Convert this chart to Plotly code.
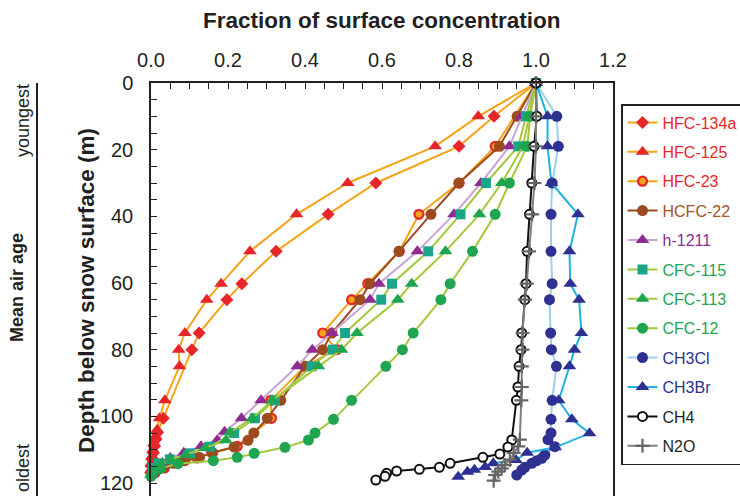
import plotly.graph_objects as go

# Firn air profiles: fraction of surface concentration vs depth (m)
hfc134a_depth = [0, 10, 19, 30, 39.4, 50.5, 60.2, 65, 75, 80, 100.6, 105, 107, 109, 111, 113, 115, 117]
hfc134a = [1.0, 0.891, 0.800, 0.584, 0.460, 0.325, 0.236, 0.197, 0.125, 0.106, 0.032, 0.016, 0.012, 0.009, 0.006, 0.003, 0.001, 0.0]

hfc125_depth = [0, 10, 19, 30, 39.4, 50.5, 60.2, 65, 75, 80, 85, 95.2, 100.6, 104, 106, 108, 110, 112, 114, 116, 118]
hfc125 = [1.0, 0.850, 0.738, 0.511, 0.378, 0.257, 0.182, 0.145, 0.088, 0.072, 0.074, 0.036, 0.022, 0.016, 0.012, 0.008, 0.005, 0.003, 0.001, 0.0, -0.002]

hfc23_depth = [0, 19, 30, 39.4, 50.5, 60.2, 65, 75, 80, 85, 95.2, 100.6, 109, 110.9, 112.5, 114, 115.5, 117]
hfc23 = [1.0, 0.894, 0.800, 0.696, 0.645, 0.563, 0.521, 0.446, 0.482, 0.400, 0.311, 0.313, 0.224, 0.158, 0.120, 0.070, 0.035, 0.010]

hcfc22_depth = [0, 10, 19, 30, 39.4, 50.5, 60.2, 65, 75, 80, 85, 95.2, 100.6, 105, 107.2, 109.2, 110.9, 112.3, 113.3, 114.1, 115, 116, 117]
hcfc22 = [1.0, 0.951, 0.905, 0.800, 0.727, 0.644, 0.569, 0.543, 0.470, 0.446, 0.400, 0.337, 0.302, 0.267, 0.252, 0.216, 0.160, 0.126, 0.088, 0.058, 0.035, 0.018, 0.008]

h1211_depth = [0, 10, 19, 30, 39.4, 50.5, 60.2, 65, 75, 80, 85, 95.2, 100.6, 104.6, 107.2, 109, 110.9, 112.5, 114, 115.5, 117]
h1211 = [1.0, 0.963, 0.931, 0.857, 0.787, 0.692, 0.592, 0.569, 0.470, 0.419, 0.380, 0.286, 0.235, 0.191, 0.172, 0.130, 0.085, 0.050, 0.030, 0.015, 0.005]

cfc115_depth = [0, 10, 19, 30, 39.4, 50.5, 60.2, 65, 75, 80, 85, 95.2, 100.6, 105, 109.1, 111.1, 112.9, 114.1, 115.5, 117]
cfc115 = [1.0, 0.974, 0.954, 0.870, 0.804, 0.720, 0.626, 0.598, 0.504, 0.472, 0.417, 0.322, 0.270, 0.216, 0.153, 0.101, 0.049, 0.020, 0.005, -0.003]

cfc113_depth = [0, 10, 19, 30, 39.4, 50.5, 60.2, 65, 75, 80, 85, 95.2, 100.6, 104.8, 107.2, 109.5, 111.5, 113, 114.5, 116, 117.5]
cfc113 = [1.0, 0.983, 0.966, 0.911, 0.853, 0.765, 0.677, 0.641, 0.535, 0.495, 0.435, 0.315, 0.263, 0.205, 0.195, 0.140, 0.090, 0.050, 0.025, 0.010, 0.0]

cfc12_depth = [0, 10, 19, 30, 39.4, 50.5, 60.2, 65, 75, 80, 85, 95.2, 100.9, 105, 107.1, 109.3, 111.1, 112.3, 113.3, 114.2, 115.6, 117.1, 118]
cfc12 = [1.0, 0.985, 0.977, 0.931, 0.894, 0.835, 0.777, 0.753, 0.681, 0.653, 0.610, 0.521, 0.474, 0.426, 0.409, 0.348, 0.268, 0.224, 0.162, 0.070, 0.025, 0.005, 0.0]

ch3cl_depth = [0, 10, 19, 30, 39.4, 50.5, 60.2, 65, 75, 80, 85, 95.2, 100.9, 105, 107, 109.1, 111.6, 112.6, 113.3, 114.1, 115.3, 116.1, 117.6]
ch3cl = [1.0, 1.054, 1.058, 1.042, 1.039, 1.039, 1.042, 1.035, 1.038, 1.040, 1.053, 1.042, 1.039, 1.039, 1.031, 1.049, 1.023, 1.015, 1.002, 0.989, 0.971, 0.963, 0.950]

ch3br_depth = [0, 10, 19, 30, 39.4, 50.5, 60.2, 65, 75, 80, 85, 95.2, 100.9, 105.1, 109.3, 110.9, 113.1, 114.1, 115.2, 116, 116.6, 118.1]
ch3br = [1.0, 1.030, 1.030, 1.040, 1.109, 1.087, 1.089, 1.112, 1.118, 1.100, 1.087, 1.059, 1.093, 1.139, 1.050, 0.977, 0.948, 0.889, 0.868, 0.840, 0.822, 0.798]

ch4_depth = [0, 10, 19, 30, 39.4, 50.5, 60.2, 65, 75, 80, 85, 91.2, 95.2, 107.1, 109.2, 111.3, 112.3, 114.1, 115.3, 115.9, 116.4, 117.1, 118, 119.1]
ch4 = [1.0, 1.002, 0.995, 0.989, 0.983, 0.977, 0.974, 0.971, 0.963, 0.961, 0.956, 0.953, 0.949, 0.937, 0.927, 0.906, 0.862, 0.777, 0.749, 0.697, 0.638, 0.612, 0.608, 0.584]

n2o_depth = [0, 10, 19, 30, 39.4, 50.5, 60.2, 65, 75, 80, 85, 91.2, 95.2, 107, 109, 111, 113, 114.6, 115.6, 116.6, 117.6, 119.3]
n2o = [1.0, 1.0, 1.0, 0.996, 0.990, 0.982, 0.976, 0.971, 0.965, 0.965, 0.963, 0.963, 0.962, 0.958, 0.954, 0.942, 0.932, 0.919, 0.911, 0.902, 0.894, 0.890]

x_ticks = [0.0, 0.2, 0.4, 0.6, 0.8, 1.0, 1.2]
y_ticks = [0, 20, 40, 60, 80, 100, 120]

RED = "#e8262a"
ORANGE = "#f5a31a"
BROWN = "#9c4a1e"
PURPLE = "#8e2c90"
LILAC = "#c9a3d4"
TEAL = "#1ba58a"
GREEN = "#1fa550"
LIME = "#a3c83c"
NAVY = "#2e3192"
SKY = "#9cd0ee"
CYAN = "#22b2e2"
INK = "#231f20"
GREY = "#808080"

series = [
    ("HFC-134a", hfc134a_depth, hfc134a, ORANGE, dict(symbol="diamond", size=10, color=RED), RED),
    ("HFC-125", hfc125_depth, hfc125, ORANGE, dict(symbol="triangle-up", size=12, color=RED), RED),
    ("HFC-23", hfc23_depth, hfc23, ORANGE, dict(symbol="circle", size=9, color=ORANGE, line=dict(color=RED, width=2.2)), RED),
    ("HCFC-22", hcfc22_depth, hcfc22, BROWN, dict(symbol="circle", size=11, color=BROWN), "#a6522a"),
    ("h-1211", h1211_depth, h1211, LILAC, dict(symbol="triangle-up", size=12, color=PURPLE), PURPLE),
    ("CFC-115", cfc115_depth, cfc115, LIME, dict(symbol="square", size=10, color=TEAL), GREEN),
    ("CFC-113", cfc113_depth, cfc113, LIME, dict(symbol="triangle-up", size=12, color=GREEN), GREEN),
    ("CFC-12", cfc12_depth, cfc12, LIME, dict(symbol="circle", size=11, color=GREEN), GREEN),
    ("CH3Cl", ch3cl_depth, ch3cl, SKY, dict(symbol="circle", size=11, color=NAVY), NAVY),
    ("CH3Br", ch3br_depth, ch3br, CYAN, dict(symbol="triangle-up", size=12, color=NAVY), NAVY),
    ("CH4", ch4_depth, ch4, "#111111", dict(symbol="circle", size=9, color="white", line=dict(color="#111111", width=2)), INK),
    ("N2O", n2o_depth, n2o, GREY, dict(symbol="cross-thin", size=10, line=dict(color="#666666", width=2.2)), INK),
]

fig = go.Figure()
for i, (name, depth, frac, lcol, marker, tcol) in enumerate(series):
    fig.add_trace(go.Scatter(
        x=frac, y=depth, mode="lines+markers",
        name=f"<span style='color:{tcol}'>{name}</span>",
        legendgroup=f"g{i}",
        line=dict(color=lcol, width=2),
        marker=marker,
        cliponaxis=False,
    ))

W, H = 740, 496
L, R, T, B = 151, 127, 83, 0
plot_h = H - T - B
plot_w = W - L - R


def px_x(px):
    return (px - L) / plot_w


def px_y(py):
    return (H - B - py) / plot_h


axis_font = dict(family="Liberation Sans, Arial, sans-serif", size=20, color=INK)

fig.update_layout(
    width=W, height=H,
    margin=dict(l=L, r=R, t=T, b=B, autoexpand=False),
    paper_bgcolor="white", plot_bgcolor="white",
    showlegend=True,
    legend=dict(
        xref="container", yref="container",
        x=621 / W, y=1 - 104 / H, xanchor="left", yanchor="top",
        bordercolor=INK, borderwidth=1.5, bgcolor="white",
        font=dict(family="Liberation Sans, Arial, sans-serif", size=16),
        tracegroupgap=5.6, itemwidth=30, maxheight=440,
    ),
    xaxis=dict(
        range=[0, 1.2], side="top", showline=True, linecolor=INK, linewidth=1.5,
        ticks="inside", ticklen=6, tickwidth=1.2, tickcolor=INK,
        tickvals=x_ticks, ticktext=[f"{v:.1f}" for v in x_ticks],
        minor=dict(dtick=0.05, tick0=0, ticks="inside", ticklen=6, tickwidth=1.2, tickcolor=INK),
        showgrid=False, zeroline=False, tickfont=axis_font, ticklabelstandoff=6,
    ),
    yaxis=dict(
        range=[plot_h / (400 / 120), 0], showline=True, mirror=True, linecolor=INK, linewidth=1.5,
        ticks="inside", ticklen=6, tickwidth=1.2, tickcolor=INK,
        tickvals=y_ticks, ticktext=[str(v) for v in y_ticks],
        minor=dict(dtick=5, tick0=0, ticks="inside", ticklen=6, tickwidth=1.2, tickcolor=INK),
        showgrid=False, zeroline=False, tickfont=axis_font, ticklabelstandoff=12,
    ),
)

ann_font = "Liberation Sans, Arial, sans-serif"
fig.add_annotation(text="<b>Fraction of surface concentration</b>", xref="paper", yref="paper",
                   x=0.5, y=px_y(21), xanchor="center", yanchor="middle", showarrow=False,
                   font=dict(family=ann_font, size=22.5, color=INK))
fig.add_annotation(text="<b>Depth below snow surface (m)</b>", xref="paper", yref="paper",
                   x=px_x(86), y=px_y(291), xanchor="center", yanchor="middle", showarrow=False,
                   textangle=-90, font=dict(family=ann_font, size=22.5, color=INK))
fig.add_annotation(text="youngest", xref="paper", yref="paper",
                   x=px_x(23), y=px_y(121), xanchor="center", yanchor="middle", showarrow=False,
                   textangle=-90, font=dict(family=ann_font, size=18, color=INK))
fig.add_annotation(text="oldest", xref="paper", yref="paper",
                   x=px_x(23), y=px_y(468), xanchor="center", yanchor="middle", showarrow=False,
                   textangle=-90, font=dict(family=ann_font, size=18, color=INK))
fig.add_annotation(text="<b>Mean air age</b>", xref="paper", yref="paper",
                   x=px_x(17), y=px_y(288), xanchor="center", yanchor="middle", showarrow=False,
                   textangle=-90, font=dict(family=ann_font, size=18, color=INK))
fig.add_shape(type="line", xref="paper", yref="paper",
              x0=px_x(37), x1=px_x(37), y0=-0.05, y1=1.0,
              line=dict(color=INK, width=2))

fig.write_html("out.html")
